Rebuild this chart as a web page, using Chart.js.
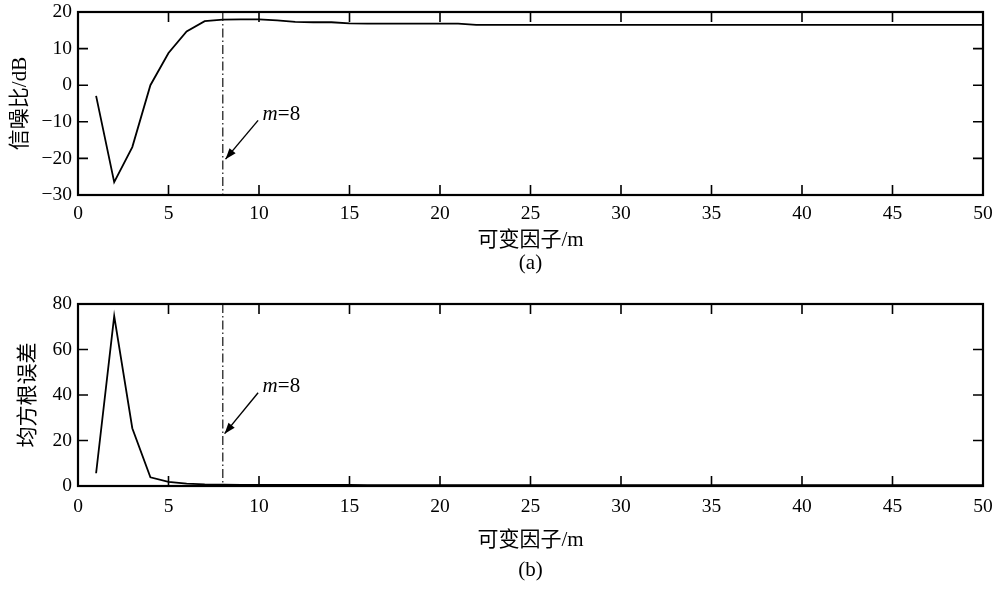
<!DOCTYPE html>
<html><head><meta charset="utf-8">
<script src="https://cdn.jsdelivr.net/npm/chart.js@4/dist/chart.umd.min.js"></script>
<style>
html,body{margin:0;padding:0;background:#fff;width:998px;height:589px;overflow:hidden}
.box{position:absolute;left:0;width:998px}
canvas{display:block}
</style></head><body>
<div class="box" style="top:0;height:290px"><canvas id="c1" width="998" height="290"></canvas></div>
<div class="box" style="top:290px;height:299px"><canvas id="c2" width="998" height="299"></canvas></div>
<script>
// ---- data ----
const factorM = [1,2,3,4,5,6,7,8,9,10,11,12,13,14,15,16,17,18,19,20,21,22,23,24,25,26,27,28,29,30,31,32,33,34,35,36,37,38,39,40,41,42,43,44,45,46,47,48,49,50];
const snrDb = [-2.9,-26.5,-16.9,0.0,8.8,14.7,17.5,17.9,18.0,18.0,17.7,17.3,17.2,17.2,16.9,16.8,16.8,16.8,16.8,16.8,16.8,16.5,16.5,16.5,16.5,16.5,16.5,16.5,16.5,16.5,16.5,16.5,16.5,16.5,16.5,16.5,16.5,16.5,16.5,16.5,16.5,16.5,16.5,16.5,16.5,16.5,16.5,16.5,16.5,16.5];
const rmse = [5.6,74.7,25.4,3.8,1.8,1.0,0.7,0.6,0.5,0.5,0.5,0.5,0.5,0.5,0.5,0.4,0.4,0.4,0.4,0.4,0.4,0.4,0.4,0.4,0.4,0.4,0.4,0.4,0.4,0.4,0.4,0.4,0.4,0.4,0.4,0.4,0.4,0.4,0.4,0.4,0.4,0.4,0.4,0.4,0.4,0.4,0.4,0.4,0.4,0.4];
const xTicks = [0,5,10,15,20,25,30,35,40,45,50];
const snrTicks = [-30,-20,-10,0,10,20];
const rmseTicks = [0,20,40,60,80];
const markerM = 8;
const xTitle = '可变因子/m';
const snrTitle = '信噪比/dB';
const rmseTitle = '均方根误差';

const SERIF = '"Liberation Serif", "Times New Roman", "Noto Sans CJK SC", serif';

const framePlugin = {
  id: 'frame',
  afterDatasetsDraw(chart, args, opts) {
    const {ctx, chartArea: a, scales: {x, y}} = chart;
    ctx.save();
    // dash-dot marker line
    const mx = x.getPixelForValue(markerM);
    ctx.strokeStyle = '#111';
    ctx.lineWidth = 1.2;
    ctx.setLineDash([9, 3, 1.5, 3]);
    ctx.beginPath(); ctx.moveTo(mx, a.top); ctx.lineTo(mx, a.bottom); ctx.stroke();
    ctx.setLineDash([]);
    // inward ticks on all sides
    ctx.strokeStyle = '#000';
    ctx.lineWidth = 1.6;
    ctx.beginPath();
    x.ticks.forEach(t => {
      const px = x.getPixelForValue(t.value);
      ctx.moveTo(px, a.bottom); ctx.lineTo(px, a.bottom - 10);
      ctx.moveTo(px, a.top); ctx.lineTo(px, a.top + 10);
    });
    y.ticks.forEach(t => {
      const py = y.getPixelForValue(t.value);
      ctx.moveTo(a.left, py); ctx.lineTo(a.left + 10, py);
      ctx.moveTo(a.right, py); ctx.lineTo(a.right - 10, py);
    });
    ctx.stroke();
    ctx.lineWidth = 2.2;
    ctx.strokeRect(a.left, a.top, a.width, a.height);
    // annotation arrow
    const hx = x.getPixelForValue(opts.head[0]), hy = y.getPixelForValue(opts.head[1]);
    const tx = x.getPixelForValue(opts.tail[0]), ty = y.getPixelForValue(opts.tail[1]);
    ctx.lineWidth = 1.4;
    ctx.beginPath(); ctx.moveTo(tx, ty); ctx.lineTo(hx, hy); ctx.stroke();
    const ang = Math.atan2(hy - ty, hx - tx);
    const L = 11, W = 4;
    ctx.fillStyle = '#000';
    ctx.beginPath();
    ctx.moveTo(hx, hy);
    ctx.lineTo(hx - L * Math.cos(ang) + W * Math.sin(ang), hy - L * Math.sin(ang) - W * Math.cos(ang));
    ctx.lineTo(hx - L * Math.cos(ang) - W * Math.sin(ang), hy - L * Math.sin(ang) + W * Math.cos(ang));
    ctx.closePath(); ctx.fill();
    // annotation text
    const lx = x.getPixelForValue(opts.text[0]), ly = y.getPixelForValue(opts.text[1]);
    ctx.textBaseline = 'alphabetic';
    ctx.textAlign = 'left';
    ctx.font = 'italic 21px ' + SERIF;
    ctx.fillText('m', lx, ly);
    const w = ctx.measureText('m').width;
    ctx.font = '21px ' + SERIF;
    ctx.fillText('=' + markerM, lx + w, ly);
    ctx.restore();
  }
};

function fmtMinus(v) { return String(v).replace('-', '\u2212'); }

function makeChart(id, values, yTicks, yTitle, cfg) {
  const pts = factorM.map((m, i) => ({x: m, y: values[i]}));
  return new Chart(document.getElementById(id), {
    type: 'line',
    data: { datasets: [{ data: pts, borderColor: '#000', borderWidth: 1.8, pointRadius: 0, tension: 0, fill: false }] },
    plugins: [framePlugin],
    options: {
      responsive: false,
      animation: false,
      events: [],
      layout: { padding: { top: cfg.padTop, right: 15, left: 0, bottom: 0 } },
      plugins: {
        legend: { display: false },
        tooltip: { enabled: false },
        frame: cfg.annot
      },
      scales: {
        x: {
          type: 'linear', min: 0, max: 50,
          afterBuildTicks: s => { s.ticks = xTicks.map(v => ({value: v})); },
          afterFit: s => { s.height = cfg.xHeight; s.paddingLeft = 0; s.paddingRight = 0; },
          grid: { display: false, drawTicks: false },
          border: { display: false },
          ticks: { color: '#000', padding: cfg.xTickPad, maxRotation: 0, autoSkip: false, font: { family: SERIF, size: 19.5 } },
          title: { display: true, text: [xTitle, cfg.sub], color: '#000',
                   font: { family: SERIF, size: 21, lineHeight: cfg.titleLH / 21 },
                   padding: { top: 0, bottom: cfg.titlePadBottom } }
        },
        y: {
          min: yTicks[0], max: yTicks[yTicks.length - 1],
          afterBuildTicks: s => { s.ticks = yTicks.map(v => ({value: v})); },
          afterFit: s => { s.width = 78; s.paddingTop = 0; s.paddingBottom = 0; },
          grid: { display: false, drawTicks: false },
          border: { display: false },
          ticks: { color: '#000', padding: 6, autoSkip: false, font: { family: SERIF, size: 19.5 }, callback: v => fmtMinus(v) },
          title: { display: true, text: yTitle, color: '#000', font: { family: SERIF, size: 21 },
                   padding: { top: cfg.yTitlePad, bottom: 0 } }
        }
      }
    }
  });
}

makeChart('c1', snrDb, snrTicks, snrTitle, {
  padTop: 12, xHeight: 95, xTickPad: 7.5, titleLH: 23, titlePadBottom: 15.5, sub: '(a)', yTitlePad: 8,
  annot: { head: [8.15, -20.2], tail: [9.95, -9.6], text: [10.2, -9.6] }
});
makeChart('c2', rmse, rmseTicks, rmseTitle, {
  padTop: 14, xHeight: 103, xTickPad: 9.5, titleLH: 30, titlePadBottom: 4, sub: '(b)', yTitlePad: 16,
  annot: { head: [8.1, 23], tail: [9.95, 41], text: [10.2, 41.2] }
});
</script>
</body></html>
